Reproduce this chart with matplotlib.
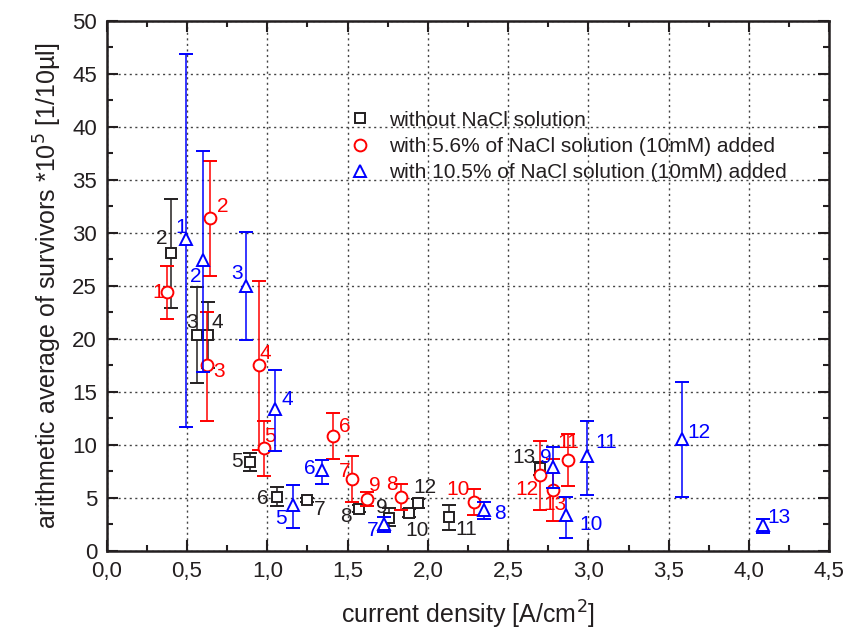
import numpy as np
import matplotlib
matplotlib.use('Agg')
import matplotlib.pyplot as plt
from matplotlib.ticker import MultipleLocator, FuncFormatter
from matplotlib.lines import Line2D

plt.rcParams['font.family'] = ['Liberation Sans', 'DejaVu Sans']

# without NaCl solution (black squares)
blk_lab = ['2', '3', '4', '5', '6', '7', '8', '9', '10', '12', '11', '13']
blk_x = [0.40, 0.565, 0.63, 0.89, 1.06, 1.25, 1.57, 1.76, 1.88, 1.94, 2.13, 2.70]
blk_y = [28.1, 20.4, 20.4, 8.4, 5.1, 4.8, 4.0, 3.1, 3.6, 4.5, 3.2, 7.8]
blk_lo = [22.9, 15.8, 17.3, 7.5, 4.2, 4.6, 3.7, 2.4, 3.2, 4.1, 2.0, 7.2]
blk_hi = [33.2, 24.9, 23.5, 9.2, 6.0, 5.0, 4.3, 4.1, 4.0, 4.9, 4.3, 8.4]

# with 5.6% NaCl (red circles)
red_lab = ['1', '2', '3', '4', '5', '6', '7', '9', '8', '10', '12', '13', '11']
red_x = [0.377, 0.644, 0.627, 0.946, 0.977, 1.41, 1.53, 1.62, 1.835, 2.29, 2.70, 2.78, 2.87]
red_y = [24.4, 31.4, 17.5, 17.5, 9.7, 10.85, 6.8, 4.9, 5.1, 4.6, 7.2, 5.75, 8.6]
red_lo = [21.9, 25.9, 12.3, 9.5, 7.1, 8.7, 4.6, 4.2, 3.9, 3.4, 3.9, 2.8, 6.1]
red_hi = [26.9, 36.8, 22.5, 25.5, 12.3, 13.0, 9.0, 5.6, 6.3, 5.8, 10.4, 8.7, 11.0]

# with 10.5% NaCl (blue triangles)
blu_lab = ['1', '2', '3', '4', '5', '6', '7', '8', '9', '10', '11', '12', '13']
blu_x = [0.496, 0.60, 0.87, 1.05, 1.16, 1.34, 1.725, 2.35, 2.78, 2.86, 2.99, 3.585, 4.09]
blu_y = [29.4, 27.4, 25.0, 13.4, 4.3, 7.6, 2.5, 3.9, 7.9, 3.4, 9.0, 10.6, 2.45]
blu_lo = [11.7, 16.9, 19.9, 9.4, 2.2, 6.3, 1.8, 3.0, 5.9, 1.2, 5.3, 5.1, 1.7]
blu_hi = [46.9, 37.7, 30.1, 17.1, 6.2, 8.6, 3.2, 4.65, 9.85, 5.1, 12.3, 15.9, 3.0]

# label offsets in pixels (dx, dy up)
blk_off = [(-9, 14), (-5, 12), (9, 12), (-13, 0), (-14, -2), (12, -9), (-13, -8),
           (-8, 11), (8, -18), (7, 16), (18, -12), (-16, 11)]
red_off = [(-9, 0), (13, 11), (12, -6), (7, 12), (6, 12), (12, 9), (-8, 7),
           (8, 14), (-9, 12), (-16, 13), (-13, -15), (2, -14), (1, 17)]
blu_off = [(-5, 12), (-7, -16), (-9, 12), (12, 9), (-12, -13), (-12, 2), (-11, -6),
           (16, -4), (-7, 10), (25, -10), (19, 13), (17, 6), (16, 8)]

BLACK = '#231f20'
RED = '#ff0000'
BLUE = '#0000ff'

fig = plt.figure(figsize=(8.45, 6.3), dpi=100)
ax = fig.add_axes([0.1263, 0.1254, 0.8551, 0.8417])


def series(x, y, lo, hi, lab, off, color, marker, ms, z):
    x = np.array(x)
    y = np.array(y)
    yerr = [y - np.array(lo), np.array(hi) - y]
    ax.errorbar(x, y, yerr=yerr, fmt=marker, color=color, ms=ms, mfc='white',
                mec=color, mew=1.4, elinewidth=1.1, capsize=5, capthick=1.1, zorder=z)
    for xi, yi, t, (dx, dy) in zip(x, y, lab, off):
        ax.annotate(t, (xi, yi), xytext=(dx, dy), textcoords='offset pixels',
                    ha='center', va='center', fontsize=15, color=color, zorder=z + 1)


series(blk_x, blk_y, blk_lo, blk_hi, blk_lab, blk_off, BLACK, 's', 6.5, 3)
series(red_x, red_y, red_lo, red_hi, red_lab, red_off, RED, 'o', 8.5, 4)
series(blu_x, blu_y, blu_lo, blu_hi, blu_lab, blu_off, BLUE, '^', 9, 5)

ax.set_xlim(0, 4.5)
ax.set_ylim(0, 50)
ax.xaxis.set_major_locator(MultipleLocator(0.5))
ax.xaxis.set_minor_locator(MultipleLocator(0.25))
ax.yaxis.set_major_locator(MultipleLocator(5))
ax.yaxis.set_minor_locator(MultipleLocator(2.5))
ax.xaxis.set_major_formatter(FuncFormatter(lambda v, p: ('%.1f' % v).replace('.', ',')))
ax.grid(True, which='major', linestyle=(0, (1.5, 2.5)), color='#444444', linewidth=1.0)
ax.set_axisbelow(True)
ax.tick_params(which='both', direction='in', top=True, right=True, labelsize=16,
               colors=BLACK, pad=7)
ax.tick_params(which='major', length=8, width=1.5)
ax.tick_params(which='minor', length=4.5, width=1.5)
for s in ax.spines.values():
    s.set_linewidth(1.8)
    s.set_color(BLACK)

ax.set_xlabel('current density [A/cm$^2$]', fontsize=18, color=BLACK, labelpad=12)
ax.set_ylabel('arithmetic average of survivors *10$^5$ [1/10\u00b5l]', fontsize=18,
              color=BLACK, labelpad=6)

handles = [
    Line2D([], [], ls='none', marker='s', ms=6.5, mfc='white', mec=BLACK, mew=1.4),
    Line2D([], [], ls='none', marker='o', ms=8.5, mfc='white', mec=RED, mew=1.4),
    Line2D([], [], ls='none', marker='^', ms=9, mfc='white', mec=BLUE, mew=1.4),
]
names = ['without NaCl solution',
         'with 5.6% of NaCl solution (10mM) added',
         'with 10.5% of NaCl solution (10mM) added']
leg = ax.legend(handles, names, loc='upper left', bbox_to_anchor=(0.302, 0.866),
                frameon=False, fontsize=15, handlelength=1.6, handletextpad=0.6,
                labelspacing=0.35)
for t in leg.get_texts():
    t.set_color(BLACK)

fig.savefig('out.png', dpi=100)
